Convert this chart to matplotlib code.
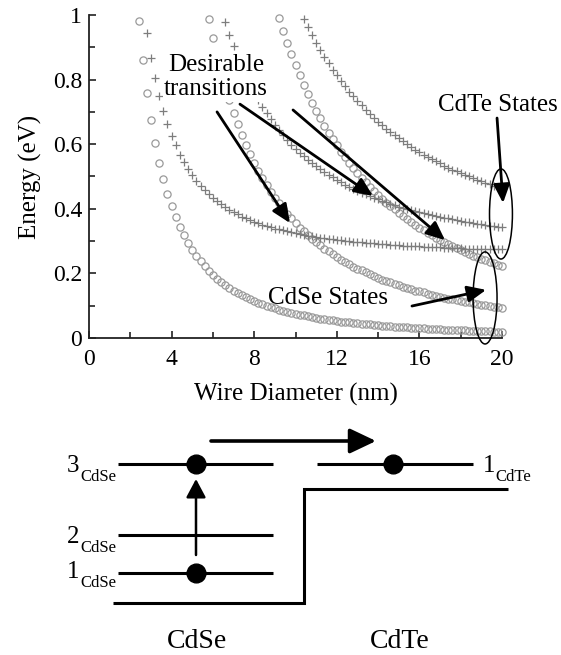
import matplotlib
matplotlib.use('Agg')
import matplotlib.pyplot as plt
from matplotlib.patches import Ellipse

plt.rcParams['font.family'] = ['Liberation Serif', 'DejaVu Serif']

# ---------------- data ----------------
diameter_nm = [
    2.4, 2.6, 2.8, 3.0, 3.2, 3.4, 3.6, 3.8, 4.0, 4.2,
    4.4, 4.6, 4.8, 5.0, 5.2, 5.4, 5.6, 5.8, 6.0, 6.2,
    6.4, 6.6, 6.8, 7.0, 7.2, 7.4, 7.6, 7.8, 8.0, 8.2,
    8.4, 8.6, 8.8, 9.0, 9.2, 9.4, 9.6, 9.8, 10.0, 10.2,
    10.4, 10.6, 10.8, 11.0, 11.2, 11.4, 11.6, 11.8, 12.0, 12.2,
    12.4, 12.6, 12.8, 13.0, 13.2, 13.4, 13.6, 13.8, 14.0, 14.2,
    14.4, 14.6, 14.8, 15.0, 15.2, 15.4, 15.6, 15.8, 16.0, 16.2,
    16.4, 16.6, 16.8, 17.0, 17.2, 17.4, 17.6, 17.8, 18.0, 18.2,
    18.4, 18.6, 18.8, 19.0, 19.2, 19.4, 19.6, 19.8, 20.0]

# CdSe states (circles); each series ends at 20 nm
cdse_state1 = [
    0.982, 0.860, 0.759, 0.674, 0.603, 0.543, 0.491, 0.447, 0.408, 0.374,
    0.344, 0.318, 0.294, 0.273, 0.254, 0.237, 0.222, 0.208, 0.196, 0.184,
    0.173, 0.164, 0.155, 0.147, 0.139, 0.132, 0.126, 0.120, 0.114, 0.109,
    0.104, 0.100, 0.095, 0.092, 0.088, 0.084, 0.081, 0.078, 0.075, 0.072,
    0.070, 0.067, 0.065, 0.062, 0.060, 0.058, 0.056, 0.055, 0.053, 0.051,
    0.050, 0.048, 0.047, 0.045, 0.044, 0.043, 0.042, 0.040, 0.039, 0.038,
    0.037, 0.036, 0.035, 0.034, 0.034, 0.033, 0.032, 0.031, 0.030, 0.030,
    0.029, 0.028, 0.028, 0.027, 0.026, 0.026, 0.025, 0.025, 0.024, 0.024,
    0.023, 0.023, 0.022, 0.022, 0.021, 0.021, 0.020, 0.020, 0.020]
cdse_state2 = [
    0.988, 0.928, 0.873, 0.823, 0.778, 0.736, 0.697, 0.661, 0.628, 0.597,
    0.569, 0.543, 0.518, 0.495, 0.474, 0.453, 0.434, 0.417, 0.400, 0.384,
    0.370, 0.356, 0.342, 0.330, 0.318, 0.307, 0.296, 0.287, 0.277, 0.268,
    0.259, 0.251, 0.243, 0.236, 0.229, 0.221, 0.215, 0.209, 0.203, 0.197,
    0.192, 0.187, 0.181, 0.176, 0.172, 0.167, 0.163, 0.159, 0.155, 0.151,
    0.147, 0.144, 0.141, 0.137, 0.134, 0.131, 0.128, 0.125, 0.122, 0.120,
    0.117, 0.114, 0.112, 0.110, 0.107, 0.105, 0.103, 0.101, 0.099, 0.097,
    0.095, 0.093]
cdse_state3 = [
    0.990, 0.950, 0.912, 0.878, 0.844, 0.813, 0.784, 0.756, 0.729, 0.704,
    0.681, 0.657, 0.636, 0.615, 0.596, 0.577, 0.560, 0.543, 0.526, 0.511,
    0.496, 0.482, 0.468, 0.455, 0.443, 0.431, 0.419, 0.409, 0.398, 0.387,
    0.378, 0.369, 0.359, 0.350, 0.342, 0.334, 0.326, 0.318, 0.311, 0.304,
    0.297, 0.290, 0.284, 0.278, 0.272, 0.266, 0.261, 0.255, 0.250, 0.245,
    0.240, 0.236, 0.231, 0.226, 0.222]

# CdTe states (crosses)
cdte_state1 = [
    0.945, 0.868, 0.804, 0.749, 0.702, 0.662, 0.626, 0.596, 0.568, 0.544,
    0.523, 0.504, 0.487, 0.471, 0.458, 0.445, 0.434, 0.423, 0.414, 0.405,
    0.397, 0.389, 0.383, 0.376, 0.370, 0.365, 0.360, 0.355, 0.351, 0.347,
    0.343, 0.339, 0.336, 0.333, 0.330, 0.327, 0.324, 0.322, 0.319, 0.317,
    0.315, 0.313, 0.311, 0.309, 0.307, 0.306, 0.304, 0.303, 0.301, 0.300,
    0.298, 0.297, 0.296, 0.295, 0.294, 0.293, 0.292, 0.291, 0.290, 0.289,
    0.288, 0.287, 0.286, 0.286, 0.285, 0.284, 0.284, 0.283, 0.282, 0.282,
    0.281, 0.281, 0.280, 0.279, 0.279, 0.278, 0.278, 0.277, 0.277, 0.277,
    0.276, 0.276, 0.275, 0.275, 0.275, 0.274, 0.274]
cdte_state2 = [
    0.978, 0.939, 0.903, 0.870, 0.839, 0.811, 0.785, 0.760, 0.737, 0.715,
    0.696, 0.677, 0.659, 0.643, 0.627, 0.613, 0.599, 0.586, 0.574, 0.563,
    0.552, 0.541, 0.531, 0.522, 0.513, 0.505, 0.497, 0.489, 0.482, 0.475,
    0.468, 0.462, 0.456, 0.450, 0.445, 0.439, 0.434, 0.429, 0.425, 0.420,
    0.416, 0.411, 0.407, 0.404, 0.400, 0.397, 0.393, 0.390, 0.387, 0.383,
    0.381, 0.378, 0.375, 0.372, 0.370, 0.367, 0.365, 0.362, 0.360, 0.358,
    0.356, 0.354, 0.352, 0.350, 0.348, 0.346, 0.345, 0.343]
cdte_state3 = [
    0.989, 0.962, 0.937, 0.914, 0.892, 0.870, 0.850, 0.831, 0.813, 0.795,
    0.779, 0.763, 0.748, 0.734, 0.720, 0.707, 0.694, 0.681, 0.670, 0.659,
    0.648, 0.638, 0.628, 0.618, 0.609, 0.601, 0.592, 0.583, 0.575, 0.568,
    0.561, 0.554, 0.547, 0.541, 0.534, 0.527, 0.521, 0.516, 0.510, 0.505,
    0.500, 0.494, 0.489, 0.485, 0.481, 0.476, 0.472, 0.467, 0.463]

x_ticks = [0, 4, 8, 12, 16, 20]
x_tick_labels = ['0', '4', '8', '12', '16', '20']
y_ticks = [0, 0.2, 0.4, 0.6, 0.8, 1.0]
y_tick_labels = ['0', '0.2', '0.4', '0.6', '0.8', '1']

# ---------------- figure ----------------
W, H = 561, 655
fig = plt.figure(figsize=(W / 100, H / 100), dpi=100)

# bottom schematic drawn in figure-pixel units
dg = fig.add_axes([0, 0, 1, 1])
dg.set_xlim(0, W)
dg.set_ylim(H, 0)
dg.axis('off')

ax = fig.add_axes([89 / W, 1 - 338 / H, (502 - 89) / W, (338 - 15) / H])
ax.set_xlim(0, 20)
ax.set_ylim(0, 1)
for s in ['top', 'right']:
    ax.spines[s].set_visible(False)
for s in ['left', 'bottom']:
    ax.spines[s].set_linewidth(1.3)
    ax.spines[s].set_color('#222222')
ax.set_xticks(x_ticks)
ax.set_xticklabels(x_tick_labels)
ax.set_yticks(y_ticks)
ax.set_yticklabels(y_tick_labels)
ax.set_xticks([2, 6, 10, 14, 18], minor=True)
ax.set_yticks([0.1, 0.3, 0.5, 0.7, 0.9], minor=True)
ax.tick_params(which='both', direction='in', width=1.2, color='#222222',
               labelsize=17)
ax.tick_params(which='major', length=5)
ax.tick_params(which='minor', length=4)
ax.tick_params(axis='x', pad=8)
ax.tick_params(axis='y', pad=5)
ax.set_xlabel('Wire Diameter (nm)', fontsize=18, labelpad=9)
ax.set_ylabel('Energy (eV)', fontsize=18, labelpad=8)
ax.patch.set_alpha(0)

circ_kw = dict(linestyle='none', marker='o', ms=5.2, mfc='none',
               mec='#9a9a9a', mew=0.9, clip_on=False, zorder=2)
cross_kw = dict(linestyle='none', marker='+', ms=5.5, color='#7d7d7d',
                mew=0.9, clip_on=False, zorder=2)
for vals in [cdse_state1, cdse_state2, cdse_state3]:
    ax.plot(diameter_nm[-len(vals):], vals, **circ_kw)
for vals in [cdte_state1, cdte_state2, cdte_state3]:
    ax.plot(diameter_nm[-len(vals):], vals, **cross_kw)

# annotations
box = dict(facecolor='white', edgecolor='none', pad=1.0)
ax.text(6.15, 0.808, 'Desirable\ntransitions', fontsize=18, ha='center',
        va='center', linespacing=1.15, bbox=box, zorder=5)
ax.text(19.81, 0.721, 'CdTe States', fontsize=18, ha='center', va='center',
        zorder=5, clip_on=False)
ax.text(11.57, 0.124, 'CdSe States', fontsize=18, ha='center', va='center',
        zorder=5)

arr = dict(arrowstyle='-|>,head_length=0.75,head_width=0.33',
           mutation_scale=15, lw=2.0, color='black', shrinkA=0, shrinkB=0)
for (x0, y0), (x1, y1) in [((6.20, 0.700), (9.73, 0.356)),
                           ((7.31, 0.724), (13.75, 0.440)),
                           ((9.88, 0.706), (17.24, 0.303)),
                           ((19.76, 0.681), (20.05, 0.418)),
                           ((15.64, 0.099), (19.23, 0.149))]:
    ax.annotate('', xy=(x1, y1), xytext=(x0, y0), arrowprops=arr,
                annotation_clip=False, zorder=6)

ax.add_patch(Ellipse((19.95, 0.384), 1.11, 0.279, fill=False, lw=1.1,
                     ec='black', clip_on=False, zorder=6))
ax.add_patch(Ellipse((19.18, 0.124), 1.16, 0.285, fill=False, lw=1.1,
                     ec='black', clip_on=False, zorder=6))

# ---------------- energy level schematic ----------------
lw_lvl = 2.2
for y in [464, 535, 573]:
    dg.plot([118, 273], [y, y], color='black', lw=lw_lvl, solid_capstyle='butt')
dg.plot([317, 473], [464, 464], color='black', lw=lw_lvl, solid_capstyle='butt')
dg.plot([113, 304, 304, 508], [603, 603, 489, 489], color='black', lw=lw_lvl,
        solid_joinstyle='miter', solid_capstyle='butt')
dg.plot([196, 196, 393], [464, 573, 464], linestyle='none', marker='o',
        ms=13.5, color='black')

dg.annotate('', xy=(196, 479), xytext=(196, 555),
            arrowprops=dict(arrowstyle='-|>,head_length=0.75,head_width=0.4',
                            mutation_scale=15, lw=1.8, color='black',
                            shrinkA=0, shrinkB=0))
dg.annotate('', xy=(376, 441), xytext=(211, 441),
            arrowprops=dict(arrowstyle='-|>,head_length=0.8,head_width=0.38',
                            mutation_scale=20, lw=2.6, color='black',
                            shrinkA=0, shrinkB=0))

for num, y in [('3', 472), ('2', 543), ('1', 578)]:
    dg.text(79, y, num, fontsize=18, ha='right', va='baseline')
    dg.text(80, y + 9, 'CdSe', fontsize=12, ha='left', va='baseline')
dg.text(483, 472, '1', fontsize=18, ha='left', va='baseline')
dg.text(495, 481, 'CdTe', fontsize=12, ha='left', va='baseline')

dg.text(197, 641, 'CdSe', fontsize=20, ha='center', va='center')
dg.text(400, 641, 'CdTe', fontsize=20, ha='center', va='center')

fig.savefig('out.png', dpi=100)
